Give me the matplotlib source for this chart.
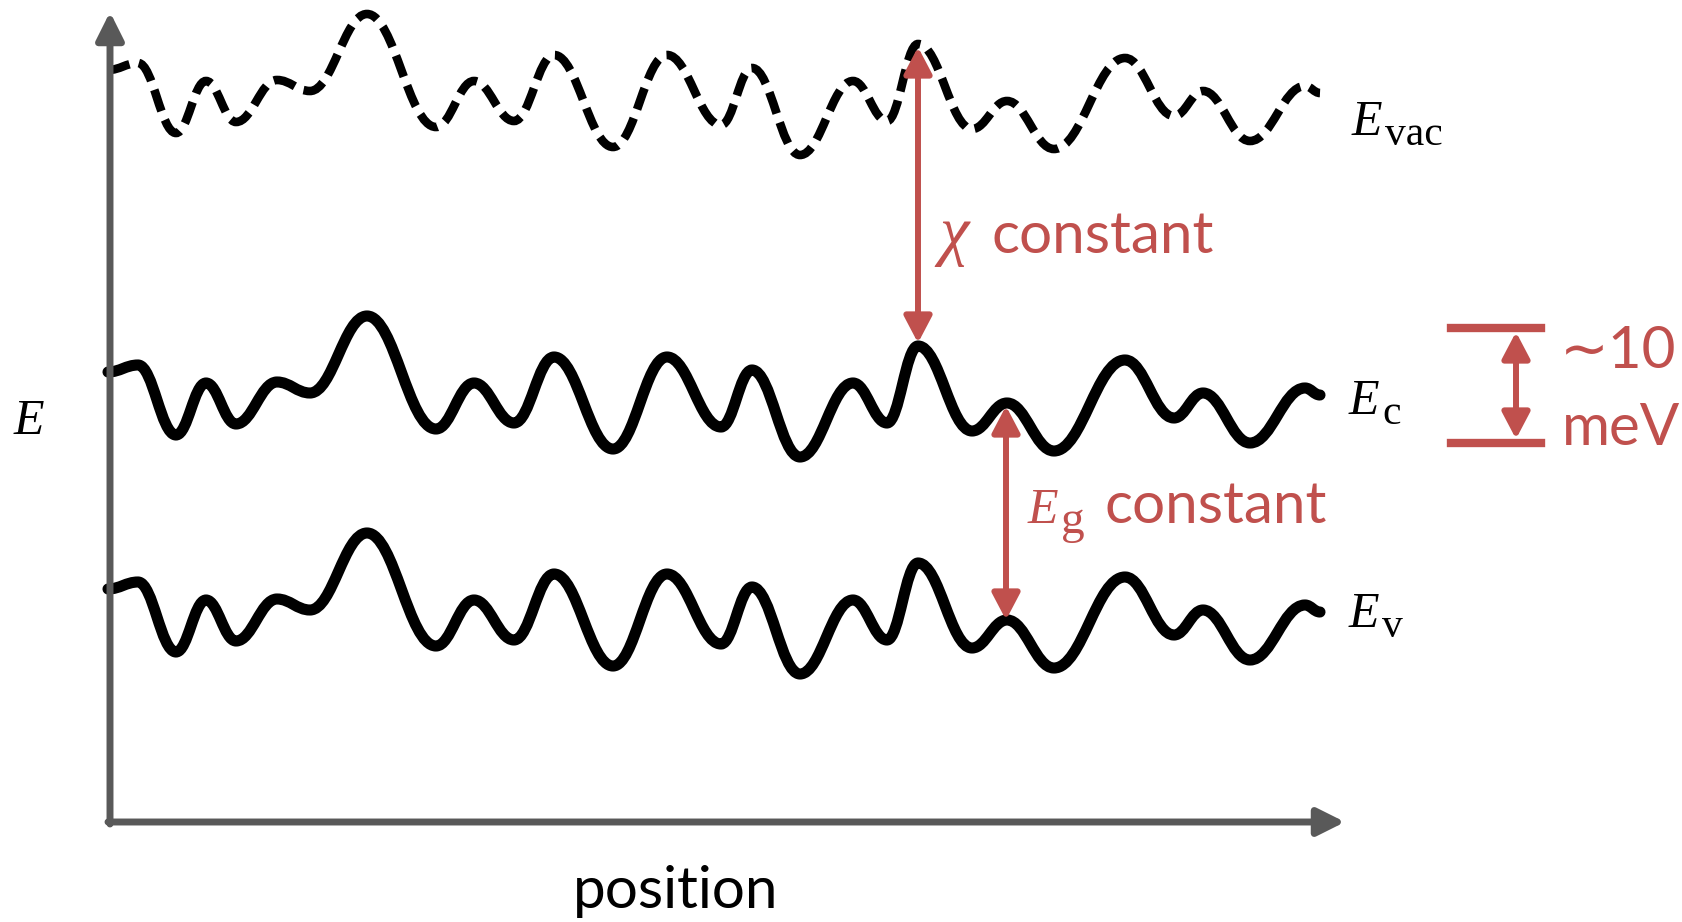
import matplotlib.pyplot as plt
from matplotlib.path import Path
from matplotlib.patches import PathPatch

# extrema of the conduction band edge, in pixel units of the picture
ec_x = [108, 138, 176, 206, 236, 277, 310, 367, 436, 474, 514, 554, 613, 667,
        721, 752, 800, 853, 887, 918, 972, 1007, 1054, 1125, 1174, 1203, 1250,
        1305, 1320]
ec_y = [372, 365, 435, 383, 424, 382, 393, 316, 429, 383, 423, 357, 449, 357,
        427, 370, 457, 383, 423, 346, 431, 403, 451, 360, 418, 393, 443, 388, 395]

# vertical offsets of the other two band edges relative to Ec
offsets = {'vac': -302, 'v': 217}

RED = '#C0504D'
GREY = '#595959'
SERIF = 'Liberation Serif'


def wave_path(xs, ys, k=0.4):
    verts = [(xs[0], ys[0])]
    codes = [Path.MOVETO]
    for i in range(1, len(xs)):
        d = (xs[i] - xs[i - 1]) * k
        verts += [(xs[i - 1] + d, ys[i - 1]), (xs[i] - d, ys[i]), (xs[i], ys[i])]
        codes += [Path.CURVE4] * 3
    return Path(verts, codes)


def energy_label(x, base, sub, color='black', size=36, sub_scale=0.83):
    # italic E followed by a large upright subscript
    ax.text(x, base, 'E', fontsize=size, family=SERIF, style='italic',
            color=color, va='baseline', ha='left')
    if sub:
        ax.text(x + 33, base + 10, sub, fontsize=size * sub_scale,
                family=SERIF, color=color, va='baseline', ha='left')


fig = plt.figure(figsize=(16.83, 9.22), dpi=100)
ax = fig.add_axes([0, 0, 1, 1])
ax.set_xlim(0, 1683)
ax.set_ylim(922, 0)
ax.axis('off')

# axes arrows
axis_kw = dict(arrowstyle='-|>,head_length=0.92,head_width=0.46',
               color=GREY, lw=5.0, mutation_scale=18, shrinkA=0, shrinkB=0)
ax.annotate('', xy=(110, 12), xytext=(110, 824), arrowprops=axis_kw)
ax.annotate('', xy=(1345, 822), xytext=(108, 822), arrowprops=axis_kw)

# band edges
ax.add_patch(PathPatch(wave_path(ec_x, ec_y), fill=False, color='black',
                       lw=8.0, capstyle='round', joinstyle='round'))
ax.add_patch(PathPatch(wave_path(ec_x, [y + offsets['v'] for y in ec_y]),
                       fill=False, color='black', lw=8.0,
                       capstyle='round', joinstyle='round'))
ax.add_patch(PathPatch(wave_path(ec_x, [y + offsets['vac'] for y in ec_y]),
                       fill=False, color='black', lw=6.2, capstyle='butt',
                       linestyle=(0, (2.6, 1.1))))

# band labels
energy_label(1352, 135, 'vac')
energy_label(1349, 414, 'c')
energy_label(1349, 627, 'v')
energy_label(14, 434, '')
ax.text(676, 891, 'position', fontsize=42, va='center', ha='center',
        family='Lato')

# constant chi and Eg arrows
arrow_kw = dict(arrowstyle='<|-|>,head_length=0.8,head_width=0.42',
                color=RED, lw=4.3, mutation_scale=20, shrinkA=0, shrinkB=0)
ax.annotate('', xy=(918, 47), xytext=(918, 343), arrowprops=arrow_kw)
ax.annotate('', xy=(1006, 406), xytext=(1006, 620), arrowprops=arrow_kw)
ax.text(939, 253, 'χ', fontsize=48, family=SERIF, style='italic', color=RED,
        va='baseline', ha='left')
ax.text(992, 253, 'constant', fontsize=42, color=RED, va='baseline',
        ha='left', family='Lato')
energy_label(1028, 523, 'g', color=RED, sub_scale=0.95)
ax.text(1105, 523, 'constant', fontsize=42, color=RED, va='baseline',
        ha='left', family='Lato')

# ~10 meV scale bar
ax.plot([1451, 1541], [328, 328], color=RED, lw=6)
ax.plot([1451, 1541], [443, 443], color=RED, lw=6)
ax.annotate('', xy=(1516, 332), xytext=(1516, 439), arrowprops=arrow_kw)
ax.text(1560, 368, '∼10', fontsize=42, color=RED, va='baseline', ha='left',
        family=['Lato', 'DejaVu Sans'])
ax.text(1562, 445, 'meV', fontsize=42, color=RED, va='baseline', ha='left',
        family='Lato')

fig.savefig('out.png', dpi=100)
